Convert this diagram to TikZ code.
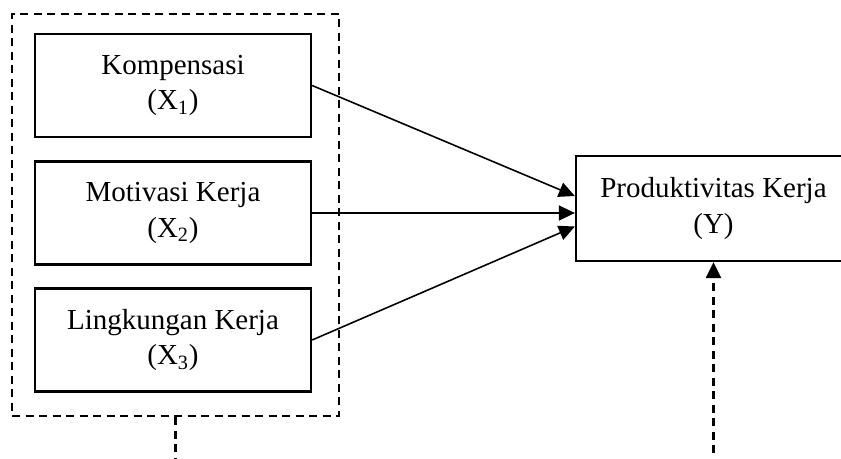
\documentclass[tikz,border=0pt]{standalone}
\usepackage{fontspec}
\setmainfont{Liberation Serif}
\usetikzlibrary{arrows.meta}

\begin{document}
\begin{tikzpicture}[
    block/.style={
      rectangle,
      draw=black,
      line width=1.3pt,
      align=center,
      minimum width=5.52cm,
      minimum height=2.06cm,
      font=\fontsize{16.5}{20}\selectfont
    },
    group/.style={
      rectangle,
      draw=black,
      line width=1.4pt,
      dash pattern=on 0.16cm off 0.11cm,
      minimum width=6.54cm,
      minimum height=8.04cm
    },
    link/.style={
      -{Triangle[length=0.32cm,width=0.3cm]},
      line width=0.9pt
    },
    dlink/.style={
      line width=1.3pt,
      dash pattern=on 0.16cm off 0.11cm
    }
]

\clip (0,0) rectangle (16.82,-9.18);

\node[group] (grp) at (3.51,-4.30) {};

\node[block] (komp) at (3.46,-1.71) {Kompensasi\\(X\textsubscript{1})};
\node[block] (moti) at (3.46,-4.26) {Motivasi Kerja\\(X\textsubscript{2})};
\node[block] (ling) at (3.46,-6.80) {Lingkungan Kerja\\(X\textsubscript{3})};

\node[block, minimum width=5.5cm, minimum height=2.1cm] (prod) at (14.27,-4.17) {Produktivitas Kerja\\(Y)};

\draw[link] (komp.east) -- ([yshift=0.25cm]prod.west);
\draw[link] (moti.east) -- (moti.east -| prod.west);
\draw[link] (ling.east) -- ([yshift=-0.36cm]prod.west);

\coordinate (gout) at (grp.south |- 0,-9.6);
\coordinate (pin) at (prod.south |- 0,-9.6);

\draw[dlink] (grp.south) -- (gout);
\draw[dlink,-{Triangle[length=0.32cm,width=0.3cm]}] (pin) -- (prod.south);

\end{tikzpicture}
\end{document}
